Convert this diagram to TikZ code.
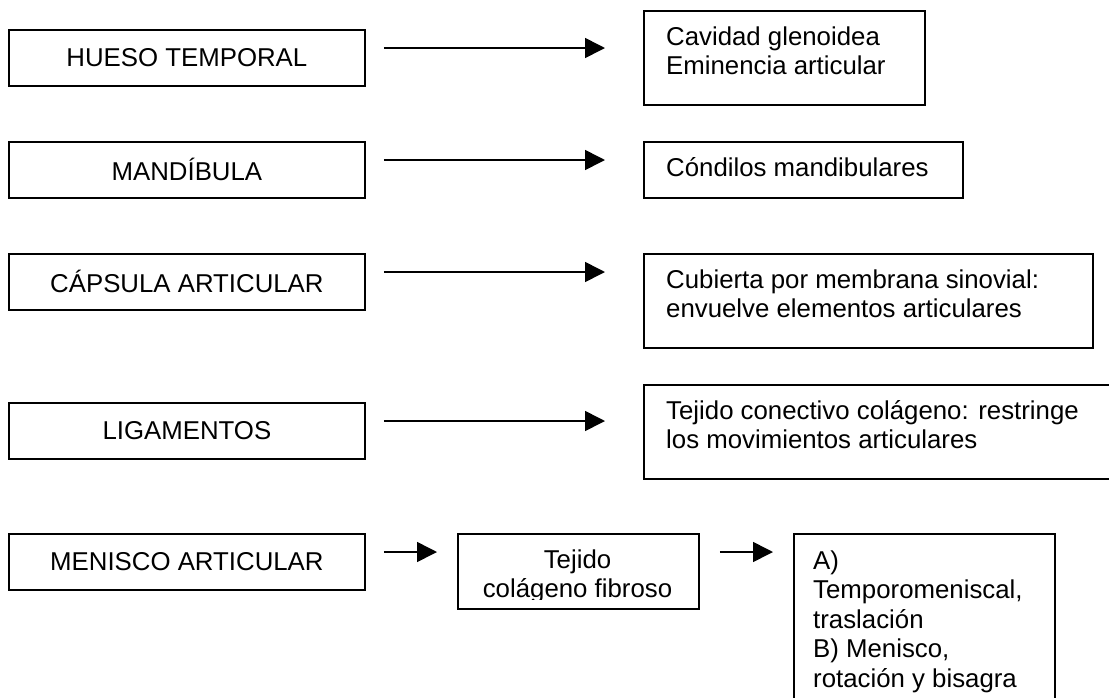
\documentclass[tikz,border=0pt]{standalone}
\usepackage{fontspec}
\setmainfont{Liberation Sans}
\usetikzlibrary{arrows.meta,calc}
\begin{document}
\begin{tikzpicture}[x=1pt,y=-1pt,
  fnt/.style={font=\fontsize{25.8}{29.5}\selectfont},
  lbox/.style={draw, line width=1.8pt, minimum width=356pt, minimum height=56pt,
               anchor=north west, inner sep=0pt, fnt},
  rbox/.style={draw, line width=1.8pt, anchor=north west, inner sep=0pt},
  txt/.style={anchor=base west, inner sep=0pt, fnt},
  arr/.style={line width=1.6pt, -{Triangle[length=20pt,width=20pt]}}]
\useasboundingbox (0,0) rectangle (1109,697);
\clip (0,0) rectangle (1109,697);

% left column
\node[lbox] (l1) at (8,29)  {HUESO TEMPORAL};
\node[lbox] (l2) at (8,141) {MANDÍBULA};
\node[lbox] (l3) at (8,253) {CÁPSULA ARTICULAR};
\node[lbox] (l4) at (8,402) {LIGAMENTOS};
\node[lbox] (l5) at (8,533) {MENISCO ARTICULAR};

% right boxes
\node[rbox, minimum width=281pt, minimum height=94pt] (r1) at (643,10) {};
\node[rbox, minimum width=319pt, minimum height=56pt] (r2) at (643,141) {};
\node[rbox, minimum width=449pt, minimum height=94pt] (r3) at (643,253) {};
\node[rbox, minimum width=480pt, minimum height=94pt] (r4) at (643,384) {};
\node[rbox, minimum width=241pt, minimum height=75pt] (m5) at (457,533) {};
\node[rbox, minimum width=261pt, minimum height=180pt] (r5) at (793,533) {};

% texts in right boxes
\node[txt] (t1) at (666,45) {\parbox[t]{300pt}{\raggedright Cavidad glenoidea\\Eminencia articular}};
\node[txt] (t2) at (666,176) {Cóndilos mandibulares};
\node[txt] (t3) at (666,288) {\parbox[t]{420pt}{\raggedright Cubierta por membrana sinovial:\\envuelve elementos articulares}};
\node[txt] (t4) at (666,419) {\parbox[t]{440pt}{\raggedright Tejido conectivo colágeno: restringe\\los movimientos articulares}};
\begin{scope}
  \clip (457,533) rectangle (698,599);
  \node[txt, anchor=base] (t5m) at (577.5,568) {\parbox[t]{230pt}{\centering Tejido\\colágeno fibroso}};
\end{scope}
\node[txt] (t5r) at (813,569) {\parbox[t]{240pt}{\raggedright A)\\Temporomeniscal,\\traslación\\B) Menisco,\\rotación y bisagra}};

% connectors
\foreach \a/\b in {l1/r1, l2/r2, l3/r3, l4/r4}{
  \draw[arr] ([shift={(18,19)}]\a.north east) coordinate (s) -- ($(\b.west |- s)+(-38,0)$);
}
\draw[arr] ([shift={(18,19)}]l5.north east) coordinate (s5) -- ($(m5.west |- s5)+(-20,0)$);
\draw[arr] ([shift={(20,19)}]m5.north east) coordinate (s6) -- ($(r5.west |- s6)+(-20,0)$);
\end{tikzpicture}
\end{document}
